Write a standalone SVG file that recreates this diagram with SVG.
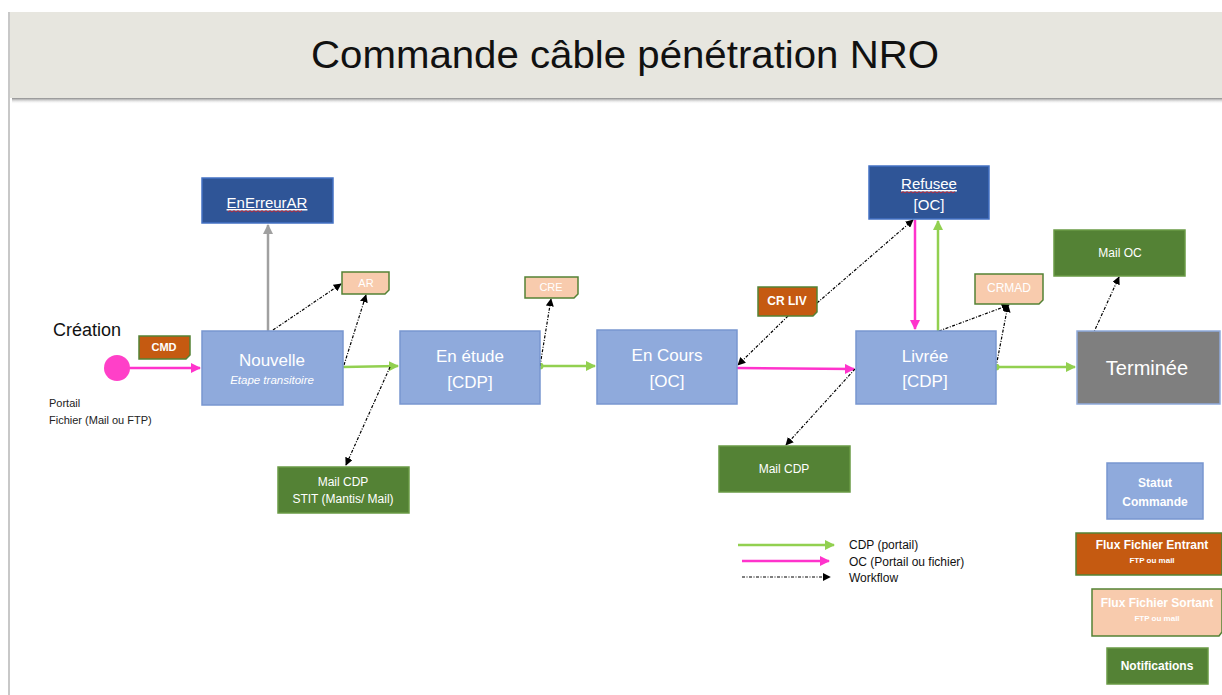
<svg xmlns="http://www.w3.org/2000/svg" width="1222" height="695" viewBox="0 0 1222 695">
<style>
text{font-family:"Liberation Sans",Arial,sans-serif;}
.w{fill:#ffffff;text-anchor:middle;}
.lb{fill:#8faadc;stroke:#7896d0;stroke-width:1.5;}
.db{fill:#2f5597;stroke:#4472c4;stroke-width:1.5;}
.gr{fill:#548235;stroke:#6a9a45;stroke-width:1.5;}
.or{fill:#c55a11;stroke:#548235;stroke-width:1.5;}
.pe{fill:#f8cbad;stroke:#548235;stroke-width:1.5;}
.dot{fill:none;stroke:#000;stroke-width:1.2;stroke-dasharray:3 1.5 1 1.5;}
.grn{fill:none;stroke:#92d050;stroke-width:2.5;}
.pnk{fill:none;stroke:#ff33cc;stroke-width:2.5;}
.gry{fill:none;stroke:#a0a0a0;stroke-width:2.5;}
.sq{fill:none;stroke:#e02020;stroke-width:0.8;}
</style>
<defs>
<marker id="mk" viewBox="0 0 10 10" refX="9" refY="5" markerWidth="8" markerHeight="8" markerUnits="userSpaceOnUse" orient="auto"><path d="M0,0 L10,5 L0,10 Z" fill="#000"/></marker>
<marker id="mg" viewBox="0 0 10 10" refX="9" refY="5" markerWidth="10" markerHeight="10" markerUnits="userSpaceOnUse" orient="auto"><path d="M0,0 L10,5 L0,10 Z" fill="#92d050"/></marker>
<marker id="mp" viewBox="0 0 10 10" refX="9" refY="5" markerWidth="10" markerHeight="10" markerUnits="userSpaceOnUse" orient="auto"><path d="M0,0 L10,5 L0,10 Z" fill="#ff33cc"/></marker>
<marker id="my" viewBox="0 0 10 10" refX="9" refY="5" markerWidth="10" markerHeight="10" markerUnits="userSpaceOnUse" orient="auto"><path d="M0,0 L10,5 L0,10 Z" fill="#a0a0a0"/></marker>
<marker id="dg" viewBox="0 0 10 10" refX="5" refY="5" markerWidth="7" markerHeight="7" markerUnits="userSpaceOnUse"><circle cx="5" cy="5" r="5" fill="#92d050"/></marker>
<linearGradient id="sh" x1="0" y1="0" x2="0" y2="1"><stop offset="0" stop-color="#8a8a8a"/><stop offset="1" stop-color="#ffffff" stop-opacity="0"/></linearGradient>
</defs>

<!-- frame and title -->
<g id="title">
<rect x="0" y="0" width="1222" height="695" fill="#ffffff"/>
<rect x="8" y="12" width="2" height="683" fill="#c8c8c8"/>
<rect x="12" y="98" width="1210" height="6" fill="url(#sh)"/>
<rect x="10" y="12" width="1212" height="86" fill="#e7e6df"/>
<text x="625" y="68" font-size="38" text-anchor="middle" fill="#111" textLength="628" lengthAdjust="spacingAndGlyphs">Commande câble pénétration NRO</text>
</g>

<!-- connectors -->
<g id="connectors">
<line class="pnk" x1="128" y1="368" x2="200" y2="368" marker-end="url(#mp)"/>
<line class="gry" x1="268" y1="331" x2="268" y2="225" marker-end="url(#my)"/>
<line class="dot" x1="273" y1="330" x2="341" y2="284" marker-end="url(#mk)"/>
<line class="dot" x1="344" y1="365" x2="366" y2="295" marker-end="url(#mk)"/>
<line class="grn" x1="343" y1="367" x2="398" y2="366" marker-end="url(#mg)"/>
<line class="dot" x1="390" y1="367" x2="346" y2="465" marker-end="url(#mk)"/>
<line class="grn" x1="540" y1="366" x2="595" y2="366" marker-start="url(#dg)" marker-end="url(#mg)"/>
<line class="dot" x1="540" y1="366" x2="551" y2="299" marker-end="url(#mk)"/>
<line class="pnk" x1="737" y1="368" x2="854" y2="369" marker-end="url(#mp)"/>
<line class="dot" x1="788" y1="316" x2="738" y2="365" marker-end="url(#mk)"/>
<line class="dot" x1="817" y1="303" x2="913" y2="220" marker-end="url(#mk)"/>
<line class="dot" x1="855" y1="369" x2="786" y2="445" marker-end="url(#mk)"/>
<line class="pnk" x1="915" y1="220" x2="915" y2="329" marker-end="url(#mp)"/>
<line class="grn" x1="938" y1="331" x2="938" y2="221" marker-end="url(#mg)"/>
<line class="dot" x1="939" y1="331" x2="1009" y2="305" marker-end="url(#mk)"/>
<line class="dot" x1="996" y1="367" x2="1008" y2="305" marker-end="url(#mk)"/>
<line class="grn" x1="996" y1="367" x2="1075" y2="367" marker-start="url(#dg)" marker-end="url(#mg)"/>
<line class="dot" x1="1078" y1="367" x2="1119" y2="277" marker-end="url(#mk)"/>
</g>

<!-- creation -->
<g id="creation">
<circle cx="117" cy="368" r="13" fill="#ff40c8"/>
<text x="53" y="336" font-size="18" fill="#111">Création</text>
<text x="49" y="407" font-size="11" fill="#222">Portail</text>
<text x="49" y="424" font-size="11" fill="#222">Fichier (Mail ou FTP)</text>
</g>

<g id="n-enerreurar">
<rect class="db" x="202" y="178" width="131" height="45"/>
<text class="w" x="267" y="208" font-size="15" text-decoration="underline">EnErreurAR</text>
<path class="sq" d="M228,212 l2,-1.5 l2,1.5 l2,-1.5 l2,1.5 l2,-1.5 l2,1.5 l2,-1.5 l2,1.5 l2,-1.5 l2,1.5 l2,-1.5 l2,1.5 l2,-1.5 l2,1.5 l2,-1.5 l2,1.5 l2,-1.5 l2,1.5 l2,-1.5 l2,1.5 l2,-1.5 l2,1.5 l2,-1.5 l2,1.5 l2,-1.5 l2,1.5 l2,-1.5 l2,1.5 l2,-1.5 l2,1.5 l2,-1.5 l2,1.5 l2,-1.5 l2,1.5 l2,-1.5 l2,1.5 l2,-1.5"/>
</g>

<g id="n-nouvelle">
<rect class="lb" x="202" y="331" width="141" height="74"/>
<text class="w" x="272" y="366" font-size="17">Nouvelle</text>
<text class="w" x="272" y="384" font-size="11.5" font-style="italic">Etape transitoire</text>
</g>

<g id="n-enetude">
<rect class="lb" x="400" y="331" width="140" height="73"/>
<text class="w" x="470" y="362" font-size="17">En étude</text>
<text class="w" x="470" y="388" font-size="17">[CDP]</text>
</g>

<g id="n-encours">
<rect class="lb" x="597" y="330" width="140" height="74"/>
<text class="w" x="667" y="361" font-size="17">En Cours</text>
<text class="w" x="667" y="387" font-size="17">[OC]</text>
</g>

<g id="n-livree">
<rect class="lb" x="856" y="331" width="140" height="73"/>
<text class="w" x="925" y="362" font-size="17">Livrée</text>
<text class="w" x="925" y="387" font-size="17">[CDP]</text>
</g>

<g id="n-terminee">
<rect x="1077" y="331" width="143" height="73" fill="#7f7f7f" stroke="#8faadc" stroke-width="1.5"/>
<text class="w" x="1147" y="375" font-size="20">Terminée</text>
</g>

<g id="n-refusee">
<rect class="db" x="869" y="166" width="120" height="53"/>
<text class="w" x="929" y="189" font-size="15" text-decoration="underline">Refusee</text>
<path class="sq" d="M901,193 l2,-1.5 l2,1.5 l2,-1.5 l2,1.5 l2,-1.5 l2,1.5 l2,-1.5 l2,1.5 l2,-1.5 l2,1.5 l2,-1.5 l2,1.5 l2,-1.5 l2,1.5 l2,-1.5 l2,1.5 l2,-1.5 l2,1.5 l2,-1.5 l2,1.5 l2,-1.5 l2,1.5 l2,-1.5 l2,1.5 l2,-1.5 l2,1.5 l2,-1.5"/>
<text class="w" x="929" y="210" font-size="15">[OC]</text>
</g>

<g id="n-mailoc">
<rect class="gr" x="1054" y="230" width="131" height="46"/>
<text class="w" x="1120" y="257" font-size="12">Mail OC</text>
</g>

<g id="n-mailcdp1">
<rect class="gr" x="278" y="467" width="131" height="46"/>
<text class="w" x="343" y="486" font-size="12">Mail CDP</text>
<text class="w" x="343" y="503" font-size="12">STIT (Mantis/ Mail)</text>
</g>

<g id="n-mailcdp2">
<rect class="gr" x="719" y="446" width="131" height="46"/>
<text class="w" x="784" y="473" font-size="12">Mail CDP</text>
</g>

<g id="n-cmd">
<path class="or" d="M139,336 H190 V355 L186,359 H139 Z"/>
<text class="w" x="164" y="351" font-size="11" font-weight="bold">CMD</text>
</g>

<g id="n-ar">
<path class="pe" d="M342,272 H389 V290 L385,294 H342 Z"/>
<text class="w" x="366" y="287" font-size="11">AR</text>
</g>

<g id="n-cre">
<path class="pe" d="M525,277 H578 V294 L574,298 H525 Z"/>
<text class="w" x="551" y="291" font-size="11">CRE</text>
</g>

<g id="n-crliv">
<path class="or" d="M758,287 H817 V312 L813,316 H758 Z"/>
<text class="w" x="787" y="305" font-size="12" font-weight="bold">CR LIV</text>
</g>

<g id="n-crmad">
<path class="pe" d="M975,274 H1043 V300 L1039,304 H975 Z"/>
<text class="w" x="1009" y="292" font-size="12">CRMAD</text>
</g>

<!-- legend -->
<g id="legend-lines">
<line class="grn" x1="738" y1="545" x2="834" y2="545" marker-end="url(#mg)"/>
<line class="pnk" x1="742" y1="561" x2="829" y2="561" marker-end="url(#mp)"/>
<line class="dot" x1="742" y1="577" x2="830" y2="577" marker-end="url(#mk)"/>
<text x="849" y="549" font-size="12" fill="#111">CDP (portail)</text>
<text x="849" y="566" font-size="12" fill="#111">OC (Portail ou fichier)</text>
<text x="849" y="582" font-size="12" fill="#111">Workflow</text>
</g>

<g id="legend-statut">
<rect class="lb" x="1107" y="463" width="96" height="56"/>
<text class="w" x="1155" y="487" font-size="12" font-weight="bold">Statut</text>
<text class="w" x="1155" y="506" font-size="12" font-weight="bold">Commande</text>
</g>

<g id="legend-entrant">
<path class="or" d="M1076,533 H1222 V575 H1076 Z"/>
<text class="w" x="1152" y="549" font-size="12" font-weight="bold">Flux Fichier Entrant</text>
<text class="w" x="1152" y="563" font-size="8" font-weight="bold">FTP ou mail</text>
</g>

<g id="legend-sortant">
<path class="pe" d="M1092,589 H1222 V632 L1219,636 H1092 Z"/>
<text class="w" x="1157" y="607" font-size="12" font-weight="bold">Flux Fichier Sortant</text>
<text class="w" x="1157" y="621" font-size="8" font-weight="bold">FTP ou mail</text>
</g>

<g id="legend-notif">
<rect class="gr" x="1107" y="648" width="101" height="36"/>
<text class="w" x="1157" y="670" font-size="12" font-weight="bold">Notifications</text>
</g>
</svg>
